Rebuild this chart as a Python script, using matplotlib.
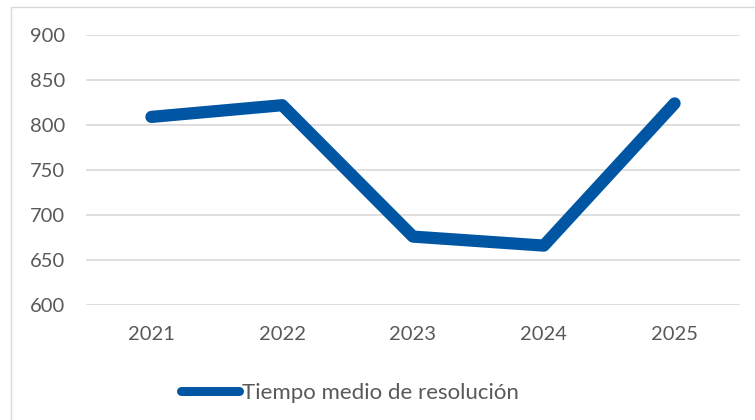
import matplotlib.pyplot as plt
from matplotlib.patches import Rectangle

anios = ['2021', '2022', '2023', '2024', '2025']
tiempo_medio = [809, 822, 676, 666, 824]
serie = 'Tiempo medio de resolución'

plt.rcParams['font.family'] = ['Lato', 'DejaVu Sans']

fig = plt.figure(figsize=(7.55, 4.2), dpi=100)
ax = fig.add_axes([86 / 755, 1 - 305 / 420, 654 / 755, 270 / 420])

ax.plot(range(len(anios)), tiempo_medio, color='#0056a3', linewidth=8.8,
        solid_capstyle='round', solid_joinstyle='round', label=serie)

ax.set_xlim(-0.5, len(anios) - 0.5)
ax.set_ylim(600, 900)
ax.set_yticks(range(600, 901, 50))
ax.set_xticks(range(len(anios)))
ax.set_xticklabels(anios)
ax.tick_params(axis='both', length=0, labelsize=14.5, labelcolor='#595959')
ax.tick_params(axis='y', pad=15)
ax.tick_params(axis='x', pad=15)
ax.grid(axis='y', color='#d9d9d9', linewidth=1.2)
ax.set_axisbelow(True)
for s in ax.spines.values():
    s.set_visible(False)

leg = fig.legend(loc='center', bbox_to_anchor=(350 / 755, 1 - 393 / 420), frameon=False,
                 fontsize=16, handlelength=2.6, handletextpad=0.15, labelcolor='#595959')
leg.get_lines()[0].set_linewidth(6.5)

# marco del grafico
fig.patches.append(Rectangle((10.5 / 755, -0.1), 1.1, 1.1 - 7 / 420, transform=fig.transFigure,
                             fill=False, edgecolor='#d9d9d9', linewidth=1))

fig.savefig('out.png', dpi=100)
